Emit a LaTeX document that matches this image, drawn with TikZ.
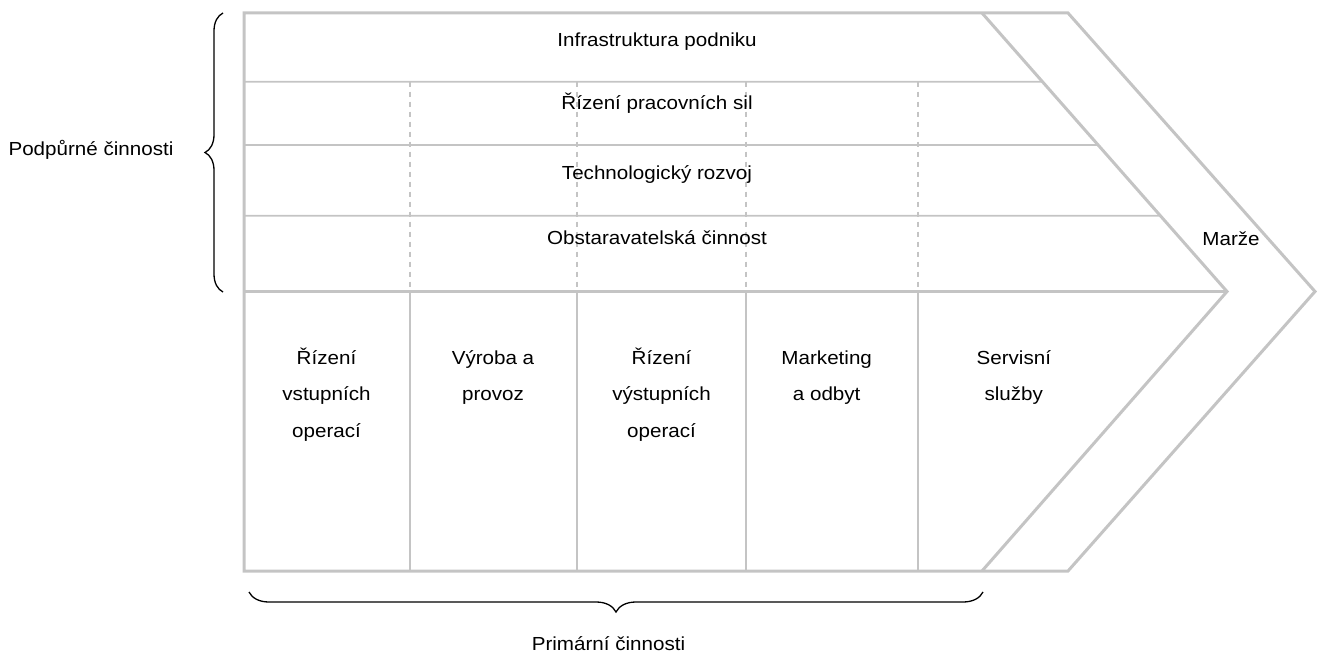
\documentclass[tikz,border=0pt]{standalone}
\usepackage{fontspec}
\setmainfont{Liberation Sans}[FakeStretch=1.09]
\usetikzlibrary{calc,decorations.pathreplacing}
\definecolor{framegray}{RGB}{196,196,196}
\begin{document}
\begin{tikzpicture}[x=1pt,y=-1pt,
  frameline/.style={draw=framegray,line width=3pt,line join=miter},
  rowline/.style={draw=framegray,line width=1.8pt},
  colline/.style={draw=framegray,line width=1.6pt},
  dashline/.style={draw=framegray,line width=1.4pt,dash pattern=on 5pt off 5pt},
  label/.style={font=\fontsize{18.9}{36.5}\selectfont,inner sep=0pt,anchor=base},
  colbox/.style={label,align=center},
  bracket/.style={draw=black,line width=1.3pt,decorate}]
\useasboundingbox (0,0) rectangle (1317,655);

% corners of the value chain arrow
\coordinate (tl) at (244,13);
\coordinate (itop) at (982,13);
\coordinate (otop) at (1068,13);
\coordinate (itip) at (1227,291.5);
\coordinate (otip) at (1315,291.5);
\coordinate (ibot) at (982,571);
\coordinate (obot) at (1068,571);
\coordinate (bl) at (244,571);
\coordinate (sep) at (244,291.5);

% support activity row boundaries, ending on the inner slant
\coordinate (r1) at ($(itop)!0.2467!(itip)$);
\coordinate (r2) at ($(itop)!0.4740!(itip)$);
\coordinate (r3) at ($(itop)!0.7278!(itip)$);
\draw[rowline] (244,81.7) -- (r1);
\draw[rowline] (244,145) -- (r2);
\draw[rowline] (244,215.7) -- (r3);

% column dividers: dashed in the support rows, solid in the primary part
\foreach \x in {410,577,746,918}{
  \draw[dashline] (\x,81.7) -- (\x,291.5);
  \draw[colline] (\x,291.5) -- (\x,571);
}

% outline, inner chevron and the support/primary divider
\draw[frameline] (tl) -- (otop) -- (otip) -- (obot) -- (bl) -- cycle;
\draw[frameline] (itop) -- (itip) -- (ibot);
\draw[frameline] (sep) -- (itip);

% support activities
\node[label] (infra) at (657,46.7) {Infrastruktura podniku};
\node[label] (hr) at (657,110) {Řízení pracovních sil};
\node[label] (tech) at (657,179.3) {Technologický rozvoj};
\node[label] (proc) at (657,244) {Obstaravatelská činnost};
\node[label] (margin) at (1231,245) {Marže};

% primary activities (anchored on the baseline of the last line)
\node[colbox] (inlog) at (326.5,437.3) {Řízení\\vstupních\\operací};
\node[colbox] (ops) at (493,400.8) {Výroba a\\provoz};
\node[colbox] (outlog) at (661.5,437.3) {Řízení\\výstupních\\operací};
\node[colbox] (mkt) at (826.7,400.8) {Marketing\\a odbyt};
\node[colbox] (svc) at (1013.8,400.8) {Servisní\\služby};

% group braces and their captions
\coordinate (lbA) at (223,292);
\coordinate (lbB) at (223,13);
\draw[bracket,decoration={brace,amplitude=18pt}] (lbA) -- (lbB);
\node[label] (support) at (91,156) {Podpůrné činnosti};

\coordinate (bbA) at (983,592);
\coordinate (bbB) at (249,592);
\draw[bracket,decoration={brace,amplitude=20pt}] (bbA) -- (bbB);
\node[label] (primary) at (608.5,650.7) {Primární činnosti};
\end{tikzpicture}
\end{document}
